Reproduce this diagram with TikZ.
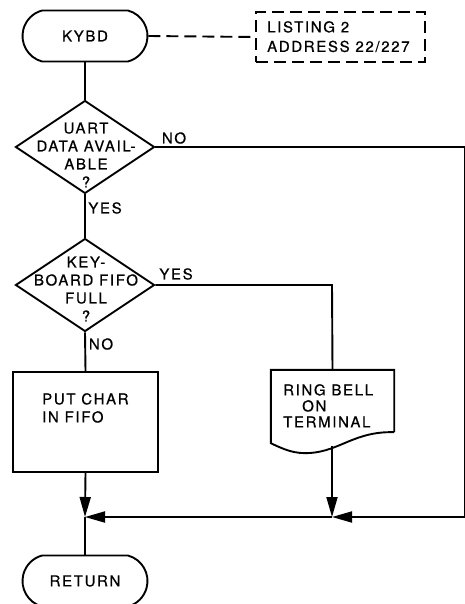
\documentclass[tikz,border=0pt]{standalone}
\usepackage{fontspec}
\setmainfont{TeX Gyre Heros}[LetterSpace=11,FakeBold=0.6]
\usetikzlibrary{shapes.misc,shapes.geometric,arrows.meta}
\tikzset{
  line/.style={line width=1.9pt},
  term/.style={line, draw, rounded rectangle, rounded rectangle arc length=150, minimum width=125pt, minimum height=51pt, inner sep=0pt},
  dia/.style={line, draw, diamond, minimum width=139pt, minimum height=93pt, inner sep=0pt},
  txt/.style={font=\fontsize{15}{18}\selectfont, inner sep=0pt},
  lbl/.style={font=\fontsize{15}{18}\selectfont, inner sep=0pt},
  arr/.style={line, -{Triangle[length=20pt,width=11pt]}},
}
\begin{document}
\begin{tikzpicture}[x=1pt,y=-1pt]
\useasboundingbox (0,0) rectangle (465,604);
% terminals
\node[term, txt] (kybd) at (85,36) {KYBD};
\node[term, txt] (ret) at (85,581) {RETURN};
% note box
\node[line, draw, dash pattern=on 12pt off 6pt, minimum width=169pt, minimum height=50pt] (note) at (340.5,37) {};
\node[txt, align=left, anchor=north west, font=\fontsize{15}{19.5}\selectfont] (notet) at (267,21) {LISTING 2\\ADDRESS 22/227};
% diamonds
\node[dia] (d1) at (85,147) {};
\node[txt, align=center] (d1t) at (86,155) {UART\\DATA AVAIL-\\ABLE\\?};
\node[dia] (d2) at (85,285) {};
\node[txt, align=center] (d2t) at (86,289) {KEY-\\BOARD FIFO\\FULL\\?};
% process box
\node[line, draw, minimum width=145pt, minimum height=100pt] (put) at (85.5,422) {};
\node[txt, align=left, anchor=north west] (putt) at (42,393) {PUT CHAR\\IN FIFO};
% document shape
\node[minimum width=123pt, minimum height=62pt, inner sep=0pt] (bell) at (332.5,401) {};
\draw[line] (bell.south east) -- (bell.north east) -- (bell.north west) -- ([yshift=-11pt]bell.south west)
  .. controls (285,450) and (295,454) .. (310,453)
  .. controls (340,451) and (355,431) .. (bell.south east);
\node[txt, align=left, anchor=north west, font=\fontsize{15}{16}\selectfont] (bellt) at (283,384) {RING BELL\\\hspace*{19pt}ON\\TERMINAL};
\coordinate (docbot) at (332,446);
% junctions
\coordinate (j1) at (85,517);
\coordinate (j2) at (332,517);
\coordinate (jr) at (465,517);
\coordinate (nr) at (465,147);
\coordinate (yr) at (332,285);
% connectors
\draw[line, dash pattern=on 12pt off 6pt] (kybd.east) -- (note.west);
\draw[line] (kybd.south) -- (d1.north);
\draw[line] (d1.south) -- (d2.north);
\draw[line] (d1.east) -- (nr) -- (jr);
\draw[line] (d2.south) -- (put.north);
\draw[line] (d2.east) -- (yr) -- (bell.north);
\draw[arr] (put.south) -- (j1);
\draw[arr] (docbot) -- (j2);
\draw[arr] (jr) -- (j2);
\draw[arr] (j2) -- (j1);
\draw[line] (j1) -- (ret.north);
% labels
\node[lbl] (no1) at (174,138) {NO};
\node[lbl] (yes1) at (105,208) {YES};
\node[lbl] (yes2) at (176,274) {YES};
\node[lbl] (no2) at (101,344) {NO};
\end{tikzpicture}
\end{document}
